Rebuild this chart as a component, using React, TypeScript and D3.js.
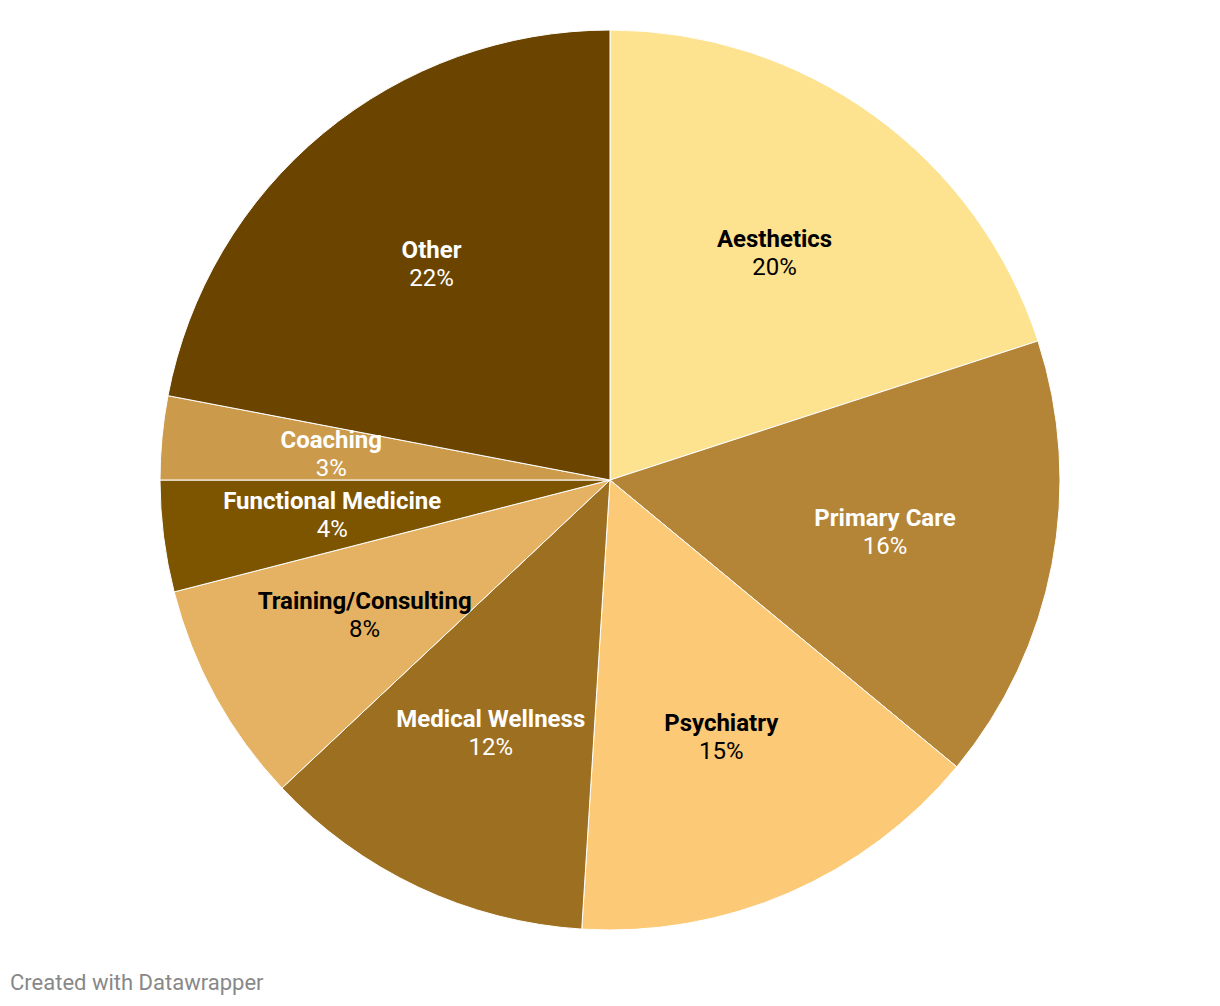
import React from "react";
import * as d3 from "d3";

const categories = ["Aesthetics", "Primary Care", "Psychiatry", "Medical Wellness", "Training/Consulting", "Functional Medicine", "Coaching", "Other"];
const values = [20, 16, 15, 12, 8, 4, 3, 22];
const colors = ["#fde28f", "#b48537", "#fcc977", "#9d6f20", "#e4b262", "#7d5500", "#cb9b4b", "#6b4500"];
const textColors = ["#000", "#fff", "#000", "#fff", "#000", "#fff", "#fff", "#fff"];

const W = 1220, H = 1006;
const cx = 610, cy = 480, R = 450, LR = 280;

export default function App() {
  const data = categories.map((c, i) => ({ c, v: values[i], i }));
  const pie = d3.pie<any>().value((d: any) => d.v).sort(null);
  const arcs = pie(data);
  const arc = d3.arc<any>().innerRadius(0).outerRadius(R);
  const labelArc = d3.arc<any>().innerRadius(LR).outerRadius(LR);
  return (
    <svg width={W} height={H} style={{ position: "absolute", left: 0, top: 0, fontFamily: "Roboto, sans-serif" }}>
      <rect width={W} height={H} fill="#fff" />
      <g transform={`translate(${cx},${cy})`}>
        {arcs.map((a: any) => (
          <path key={a.data.c} d={arc(a) as string} fill={colors[a.data.i]} stroke="#fff" strokeWidth={1} />
        ))}
        {arcs.map((a: any) => {
          const [x, y] = labelArc.centroid(a);
          return (
            <g key={"l" + a.data.c} transform={`translate(${x},${y})`} fill={textColors[a.data.i]} textAnchor="middle" fontSize={24}>
              <text y={-6} fontWeight="bold">{a.data.c}</text>
              <text y={22}>{a.data.v}%</text>
            </g>
          );
        })}
      </g>
      <text x={10} y={990} fontSize={22} fill="#888">Created with Datawrapper</text>
    </svg>
  );
}
